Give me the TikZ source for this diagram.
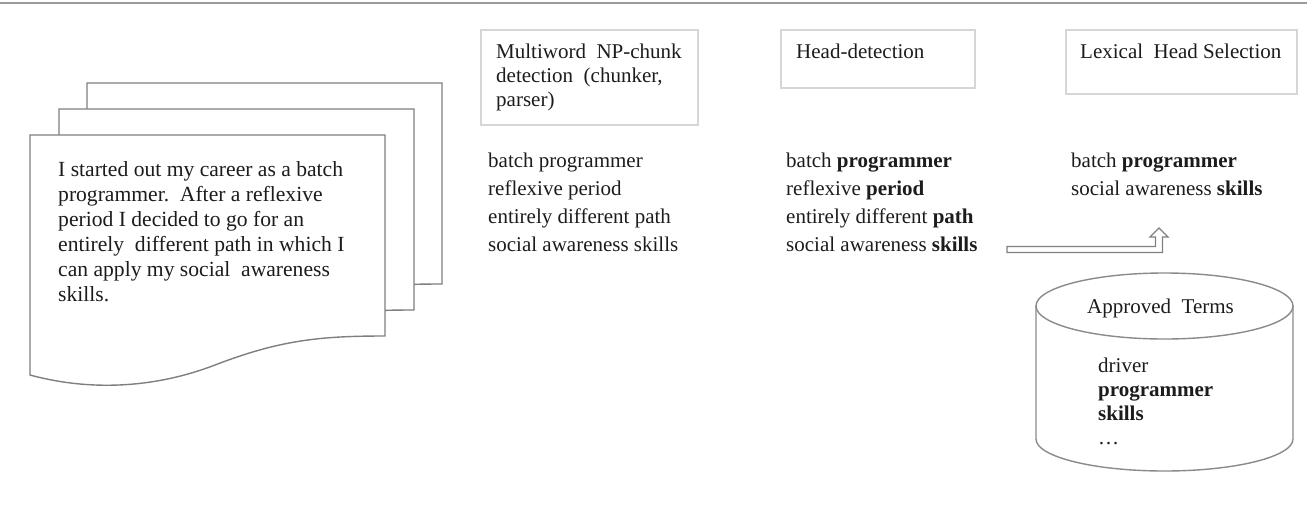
\documentclass[tikz,border=0pt]{standalone}
\usepackage{fontspec}
\setmainfont{Liberation Serif}
\begin{document}
\begin{tikzpicture}[x=1pt,y=-1pt,
  txt/.style={anchor=base west, inner sep=0pt, text=ink, font=\fontsize{21}{25}\selectfont},
  pagetxt/.style={txt, font=\fontsize{21.6}{25}\selectfont},
  stage/.style={draw=boxline, line width=1.2pt, fill=white},
  pageline/.style={draw=pagegray, line width=1.4pt, fill=white},
  dbline/.style={draw=cylgray, line width=1.4pt},
  hollowarrow/.style={draw=arrowgray, line width=1.3pt, fill=white, line join=miter}
]
\definecolor{ink}{HTML}{1C1C1C}
\definecolor{boxline}{HTML}{D6D6D6}
\definecolor{pagegray}{HTML}{7F7F7F}
\definecolor{cylgray}{HTML}{8A8A8A}
\definecolor{arrowgray}{HTML}{808080}
\definecolor{rulegray}{HTML}{9A9A9A}

\useasboundingbox (0,0) rectangle (1307,512);

% rule across the top
\coordinate (ruleL) at (0,3);
\coordinate (ruleR) at (1307,3);
\draw[rulegray, line width=1.5pt] (ruleL) -- (ruleR);

% stack of three document pages, back to front
\foreach \dx/\dy in {57/-52, 29/-26, 0/0}{
  \begin{scope}[shift={(30+\dx,135+\dy)}]
    \path[pageline] (0,0) -- (355,0) -- (355,201)
      .. controls (290,201) and (250,205) .. (185,230)
      .. controls (120,255) and (55,255) .. (0,240) -- cycle;
  \end{scope}
}
\node[pagetxt] (p1) at (58,176) {I started out my career as a batch};
\node[pagetxt] (p2) at (58,201) {programmer.\ \ After a reflexive};
\node[pagetxt] (p3) at (58,226) {period I decided to go for an};
\node[pagetxt] (p4) at (58,251) {entirely\ \ different path in which I};
\node[pagetxt] (p5) at (58,276) {can apply my social\ \ awareness};
\node[pagetxt] (p6) at (58,301) {skills.};

% stage boxes
\path[stage] (481,30) rectangle (698,125);
\node[txt] (s1a) at (496,58) {Multiword\ \ NP-chunk};
\node[txt] (s1b) at (496,82) {detection\ \ (chunker,};
\node[txt] (s1c) at (496,106) {parser)};

\path[stage] (781,30) rectangle (975,88);
\node[txt] (s2) at (796,58) {Head-detection};

\path[stage] (1066,30) rectangle (1297,94);
\node[txt] (s3) at (1080,58) {Lexical\ \ Head Selection};

% candidate chunks
\foreach \t [count=\i] in {batch programmer, reflexive period, entirely different path, social awareness skills}
  \node[txt] (a\i) at (488,{167+28*(\i-1)}) {\t};

% detected heads
\foreach \t [count=\i] in {{batch \textbf{programmer}}, {reflexive \textbf{period}}, {entirely different \textbf{path}}, {social awareness \textbf{skills}}}
  \node[txt] (b\i) at (786,{167+28*(\i-1)}) {\t};

% selected terms
\node[txt] (c1) at (1071,167) {batch \textbf{programmer}};
\node[txt] (c2) at (1071,195) {social awareness \textbf{skills}};

% hollow bent arrow
\path[hollowarrow] (1007,246.5) -- (1155.5,246.5) -- (1155.5,237) -- (1150,237)
  -- (1159,228) -- (1168,237) -- (1162.5,237) -- (1162.5,252.5) -- (1007,252.5) -- cycle;

% approved-terms database
\path[dbline, fill=white] (1036,306) -- (1036,439) arc[start angle=180, end angle=0, x radius=128.5, y radius=32]
  -- (1293,306);
\draw[dbline] (1164.5,306) ellipse[x radius=128.5, y radius=33];
\node[txt] (db) at (1087,313) {Approved\ \ Terms};
\node[txt] (d1) at (1098,372) {driver};
\node[txt] (d2) at (1098,396) {\textbf{programmer}};
\node[txt] (d3) at (1098,420) {\textbf{skills}};
\node[txt] (d4) at (1098,444) {\dots};
\end{tikzpicture}
\end{document}
